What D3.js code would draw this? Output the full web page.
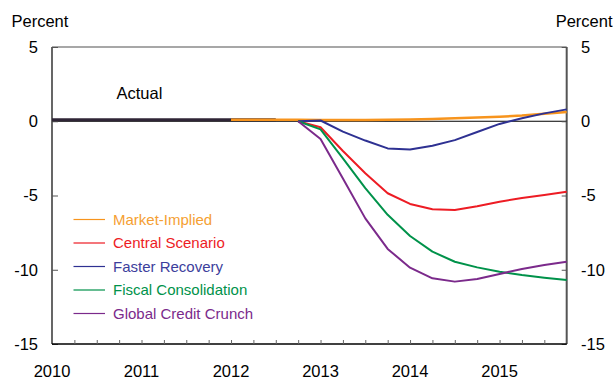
<!DOCTYPE html>
<html>
<head>
<meta charset="utf-8">
<script src="https://cdn.jsdelivr.net/npm/d3@7"></script>
<style>
  html, body { margin: 0; padding: 0; background: #fff; }
  svg { display: block; font-family: "Liberation Sans", Arial, sans-serif; }
</style>
</head>
<body>
<svg id="chart" width="613" height="379"></svg>
<script>
// Quarterly periods, 2010 Q1 .. 2015 Q4
const quarters = d3.range(24);
const yearLabels = ["2010", "2011", "2012", "2013", "2014", "2015"];
const yTicks = [5, 0, -5, -10, -15];

// Outturn up to 2012 Q3
const actual = [0.1, 0.1, 0.1, 0.1, 0.1, 0.1, 0.1, 0.1, 0.1, 0.1, 0.1];

// Scenario paths from 2012 Q1 (market) and 2012 Q4 (others) onward
const marketStart = 8;
const marketImplied = [0.1, 0.1, 0.1, 0.1, 0.08, 0.08, 0.08, 0.1, 0.12, 0.15, 0.2, 0.25, 0.3, 0.38, 0.5, 0.62];
const scenStart = 11;
const centralScenario = [0, -0.4, -2.0, -3.5, -4.85, -5.57, -5.93, -5.98, -5.72, -5.42, -5.17, -4.97, -4.74];
const fasterRecovery = [0, 0.05, -0.7, -1.3, -1.83, -1.9, -1.65, -1.27, -0.72, -0.18, 0.2, 0.53, 0.8];
const fiscalConsolidation = [0, -0.55, -2.5, -4.5, -6.3, -7.73, -8.78, -9.46, -9.84, -10.13, -10.36, -10.54, -10.69];
const globalCreditCrunch = [0, -1.2, -3.85, -6.54, -8.6, -9.86, -10.58, -10.8, -10.62, -10.28, -9.95, -9.68, -9.46];

const seriesNames = ["Market-Implied", "Central Scenario", "Faster Recovery", "Fiscal Consolidation", "Global Credit Crunch"];
const seriesColors = ["#f7941d", "#ed1c24", "#2e3192", "#00924a", "#7b2a8b"];
const legendText = ["#f5a033", "#ed1c24", "#3c3e9c", "#00924a", "#7b2a8b"];

const series = [
  { name: seriesNames[0], start: marketStart, values: marketImplied, color: seriesColors[0], width: 2.5 },
  { name: seriesNames[1], start: scenStart, values: centralScenario, color: seriesColors[1], width: 2 },
  { name: seriesNames[2], start: scenStart, values: fasterRecovery, color: seriesColors[2], width: 2 },
  { name: seriesNames[3], start: scenStart, values: fiscalConsolidation, color: seriesColors[3], width: 2 },
  { name: seriesNames[4], start: scenStart, values: globalCreditCrunch, color: seriesColors[4], width: 2 }
];

const svg = d3.select("#chart");
const plotLeft = 52, plotRight = 566.7, plotTop = 47, plotBottom = 344;

const x = d3.scaleLinear().domain([0, 23]).range([plotLeft, plotRight]);
const y = d3.scaleLinear().domain([-15, 5]).range([plotBottom, plotTop]);

const fontSize = 16.5;

// Frame
svg.append("line").attr("x1", plotLeft).attr("x2", plotRight).attr("y1", plotTop).attr("y2", plotTop)
  .attr("stroke", "#8a8a8a").attr("stroke-width", 1.5);
svg.append("line").attr("x1", plotRight).attr("x2", plotRight).attr("y1", plotTop).attr("y2", plotBottom)
  .attr("stroke", "#555").attr("stroke-width", 2);

// Zero line
svg.append("line").attr("x1", plotLeft).attr("x2", plotRight).attr("y1", y(0)).attr("y2", y(0))
  .attr("stroke", "#000").attr("stroke-width", 1);

// Left axis: ticks pointing inward
const yLeft = svg.append("g").attr("transform", `translate(${plotLeft},0)`)
  .call(d3.axisRight(y).tickValues(yTicks).tickSize(6).tickFormat(""));
yLeft.select(".domain").attr("stroke", "#000").attr("stroke-width", 1.2).attr("d", `M0,${plotTop}V${plotBottom}`);
yLeft.selectAll(".tick line").attr("stroke", "#555");

const yRight = svg.append("g").attr("transform", `translate(${plotRight},0)`)
  .call(d3.axisLeft(y).tickValues(yTicks).tickSize(5).tickFormat(""));
yRight.select(".domain").remove();
yRight.selectAll(".tick line").attr("stroke", "#555");

// Y tick labels, both sides
svg.append("g").selectAll("text").data(yTicks).join("text")
  .attr("x", 38).attr("y", d => y(d)).attr("dy", "0.36em")
  .attr("text-anchor", "end").attr("font-size", fontSize).attr("fill", "#000")
  .text(d => d);
svg.append("g").selectAll("text").data(yTicks).join("text")
  .attr("x", 581).attr("y", d => y(d)).attr("dy", "0.36em")
  .attr("text-anchor", "start").attr("font-size", fontSize).attr("fill", "#000")
  .text(d => d);

// Unit labels
svg.append("text").attr("x", 11.5).attr("y", 26.5).attr("font-size", fontSize).text("Percent");
svg.append("text").attr("x", 612.5).attr("y", 26.5).attr("text-anchor", "end").attr("font-size", fontSize).text("Percent");

// Bottom axis with quarterly ticks pointing up
const xAxis = svg.append("g").attr("transform", `translate(0,${plotBottom})`)
  .call(d3.axisTop(x).tickValues(quarters.slice(1, 23)).tickSize(4).tickFormat(""));
xAxis.select(".domain").attr("stroke", "#000").attr("stroke-width", 1.5).attr("d", `M${plotLeft},0H${plotRight}`);
xAxis.selectAll(".tick line").attr("stroke", "#666");

svg.append("g").selectAll("text").data(yearLabels).join("text")
  .attr("x", (d, i) => x(i * 4)).attr("y", 377)
  .attr("text-anchor", "middle").attr("font-size", fontSize).text(d => d);

const line = d3.line().x(d => x(d[0])).y(d => y(d[1]));
const lines = svg.append("g");

// Actual outturn, beneath the scenario paths
lines.append("path").datum(actual.map((v, i) => [i, v])).attr("d", line)
  .attr("fill", "none").attr("stroke", "#2f2536").attr("stroke-width", 3);

// Scenario lines
series.forEach(s => {
  const pts = s.values.map((v, i) => [s.start + i, v]);
  lines.append("path").datum(pts).attr("d", line)
    .attr("fill", "none").attr("stroke", s.color).attr("stroke-width", s.width)
    .attr("stroke-linejoin", "round");
});

svg.append("text").attr("x", 116.5).attr("y", 99).attr("font-size", fontSize).text("Actual");

// Legend
const lg = svg.append("g");
series.forEach((s, i) => {
  const ly = 219.5 + i * 23.5;
  lg.append("line").attr("x1", 73.5).attr("x2", 105).attr("y1", ly).attr("y2", ly)
    .attr("stroke", s.color).attr("stroke-width", 1.2);
  lg.append("text").attr("x", 113).attr("y", ly).attr("dy", "0.36em")
    .attr("font-size", 15).attr("fill", legendText[i]).text(s.name);
});
</script>
</body>
</html>
